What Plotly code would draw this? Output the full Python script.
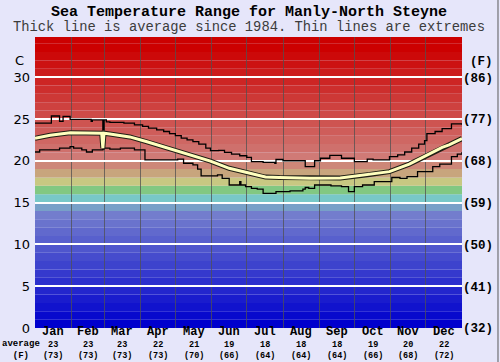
import plotly.graph_objects as go

# ---------------- data ----------------
months = ["Jan", "Feb", "Mar", "Apr", "May", "Jun", "Jul", "Aug", "Sep", "Oct", "Nov", "Dec"]
month_days = [31, 28, 31, 30, 31, 30, 31, 31, 30, 31, 30, 31]
month_avg_c = [23, 23, 23, 22, 21, 19, 18, 18, 18, 19, 20, 22]
month_avg_f = [73, 73, 73, 73, 70, 66, 64, 64, 64, 66, 68, 72]

c_ticks = [0, 5, 10, 15, 20, 25, 30]
f_ticks = [32, 41, 50, 59, 68, 77, 86]

max_days = [0, 14, 21, 24, 30, 48, 49, 58, 59, 61, 64, 76, 85, 92, 97, 104, 110, 115, 120, 125,
            130, 135, 140, 146, 150, 157, 162, 168, 175, 181, 185, 195, 205, 206, 212, 218, 231,
            239, 244, 252, 262, 273, 284, 289, 303, 310, 316, 322, 328, 333, 335, 342, 348, 356, 365]
max_temp = [24.5, 25.35, 24.7, 25.3, 24.95, 24.7, 24.9, 23.7, 24.9, 24.65, 24.6, 24.5, 24.3, 24.1,
            23.9, 23.7, 23.5, 23.25, 23.0, 22.7, 22.5, 22.3, 22.0, 21.5, 21.2, 21.25, 21.0, 20.8,
            20.6, 20.4, 19.9, 19.8, 19.7, 20.15, 20.0, 20.0, 19.3, 20.0, 20.3, 20.65, 20.3, 19.9,
            20.2, 20.1, 20.5, 20.7, 21.05, 21.5, 22.0, 22.4, 23.25, 23.5, 23.85, 24.4, 24.3]

avg_days = [0, 13, 30, 53, 57, 58, 59, 64, 81, 95, 109, 123, 138, 150, 166, 184, 197, 209, 223,
            235, 261, 286, 303, 320, 333, 348, 354, 365]
avg_temp = [22.7, 23.05, 23.35, 23.35, 23.3, 21.5, 23.3, 23.2, 22.85, 22.3, 21.7, 21.05, 20.45,
            19.95, 19.1, 18.45, 18.05, 18.0, 17.95, 17.9, 17.95, 18.35, 18.7, 19.6, 20.5, 21.6,
            21.9, 22.65]

min_days = [0, 4, 21, 30, 33, 40, 44, 49, 58, 59, 64, 73, 85, 94, 122, 127, 135, 139, 142, 156,
            160, 166, 174, 175, 176, 180, 185, 190, 195, 206, 218, 229, 231, 234, 239, 253, 262,
            268, 273, 280, 290, 305, 312, 318, 327, 338, 340, 346, 356, 361, 365]
min_temp = [21.05, 21.3, 21.5, 21.7, 21.5, 21.3, 21.05, 21.3, 21.4, 21.5, 21.4, 21.5, 21.3, 20.1,
            20.2, 19.7, 19.5, 19.0, 18.2, 18.3, 17.9, 17.1, 17.1, 17.5, 17.1, 16.9, 16.7, 16.6,
            16.1, 16.3, 16.4, 16.6, 16.8, 16.7, 17.1, 17.0, 16.9, 16.3, 16.9, 17.1, 17.5, 18.0,
            17.9, 18.1, 18.7, 18.7, 19.3, 19.6, 20.5, 20.8, 21.05]

# ---------------- styling helpers ----------------
def band_color(t):
    special = {14: (120, 160, 200), 15: (120, 200, 200), 16: (130, 200, 130),
               17: (200, 200, 130), 18: (200, 165, 125), 19: (205, 135, 120)}
    if t in special:
        return "rgb(%d,%d,%d)" % special[t]
    if t < 14:
        f = t / 13.0
        return "rgb(%d,%d,%d)" % (int(115 * f), int(125 * f), 205)
    f = min((t - 20) / 13.0, 1.0)
    return "rgb(%d,%d,%d)" % (int(208 - 4 * f), int(122 * (1 - f)), int(118 * (1 - f)))

bounds = [0]
for d in month_days:
    bounds.append(bounds[-1] + d)
mids = [(bounds[i] + bounds[i + 1]) / 2 for i in range(12)]

fig = go.Figure()

shapes = []
for t in range(0, 35):
    shapes.append(dict(type="rect", xref="x", yref="y", x0=0, x1=365, y0=t, y1=t + 1,
                       fillcolor=band_color(t), line=dict(width=0), layer="below"))
# thin frame line at the right edge of the image
shapes.append(dict(type="line", xref="paper", yref="paper", x0=1.0843, x1=1.0843,
                   y0=-0.13, y1=1.14, line=dict(color="rgb(90,90,90)", width=1)))

fig.add_trace(go.Scatter(x=max_days, y=max_temp, mode="lines", line_shape="hv",
                         line=dict(color="black", width=1.3), hoverinfo="skip"))
fig.add_trace(go.Scatter(x=min_days, y=min_temp, mode="lines", line_shape="hv",
                         line=dict(color="black", width=1.3), hoverinfo="skip"))
fig.add_trace(go.Scatter(x=avg_days, y=avg_temp, mode="lines",
                         line=dict(color="rgb(30,30,20)", width=5), hoverinfo="skip"))
fig.add_trace(go.Scatter(x=avg_days, y=avg_temp, mode="lines",
                         line=dict(color="rgb(255,255,190)", width=3), hoverinfo="skip"))
fig.add_trace(go.Scatter(x=[0], y=[0], yaxis="y2", mode="markers",
                         marker=dict(opacity=0), hoverinfo="skip"))

mono = "Liberation Mono, Courier New, monospace"
sans = "DejaVu Sans, Verdana, sans-serif"
ann = []
ann.append(dict(text="<b>Sea Temperature Range for Manly-North Steyne</b>", x=0.5, y=1,
                xref="paper", yref="paper", yshift=25, showarrow=False,
                xanchor="center", yanchor="middle",
                font=dict(family=mono, size=15, color="black")))
ann.append(dict(text="Thick line is average since 1984. Thin lines are extremes", x=0.5, y=1,
                xref="paper", yref="paper", yshift=10, showarrow=False,
                xanchor="center", yanchor="middle",
                font=dict(family=mono, size=13.8, color="rgb(60,60,60)")))
for i in range(12):
    ann.append(dict(text="<b>%s</b>" % months[i], x=mids[i], y=0, xref="x", yref="paper",
                    yshift=-4, showarrow=False, xanchor="center", yanchor="middle",
                    borderpad=0, font=dict(family=mono, size=12, color="black")))
    ann.append(dict(text="<b>%d<br>(%d)</b>" % (month_avg_c[i], month_avg_f[i]), x=mids[i], y=0,
                    xref="x", yref="paper", yshift=-22, showarrow=False,
                    xanchor="center", yanchor="middle", borderpad=0,
                    font=dict(family=mono, size=8.5, color="black")))
ann.append(dict(text="<b>average<br>(F)</b>", x=0, y=0, xref="paper", yref="paper",
                showarrow=False, xanchor="center", yanchor="middle", yshift=-22, xshift=-14,
                borderpad=0, font=dict(family=mono, size=9, color="black")))
ann.append(dict(text="C", x=0, y=1, xref="paper", yref="paper", showarrow=False,
                xanchor="center", yanchor="middle", yshift=-23, xshift=-16,
                font=dict(family=sans, size=13, color="black")))
ann.append(dict(text="<b>(F)</b>", x=1, y=1, xref="paper", yref="paper", showarrow=False,
                xanchor="center", yanchor="middle", yshift=-25, xshift=19,
                font=dict(family=mono, size=12.5, color="black")))

fig.update_layout(
    width=500, height=362,
    margin=dict(l=35, r=38, t=37, b=34),
    paper_bgcolor="rgb(230,230,250)",
    plot_bgcolor="rgb(230,230,250)",
    showlegend=False,
    shapes=shapes,
    annotations=ann,
    xaxis=dict(range=[0, 365], tickvals=bounds[1:-1], showticklabels=False, ticks="",
               showgrid=True, gridcolor="rgba(80,80,80,0.75)", gridwidth=1, zeroline=False,
               showline=False, fixedrange=True),
    yaxis=dict(range=[0, 34.8], tickvals=c_ticks, ticktext=[str(v) for v in c_ticks],
               showgrid=True, gridcolor="white", gridwidth=1.6, zeroline=False, ticks="",
               tickfont=dict(family=sans, size=13, color="black"),
               ticklabelstandoff=4, fixedrange=True, automargin=False),
    yaxis2=dict(range=[0, 34.8], overlaying="y", side="right", tickvals=c_ticks,
                ticktext=["<b>(%d)</b>" % v for v in f_ticks], showgrid=False, zeroline=False,
                ticks="", tickfont=dict(family=mono, size=12.5, color="black"),
                fixedrange=True, automargin=False),
)

fig.write_html("out.html", config={"displayModeBar": False},
               post_script="document.body.style.margin='0px';document.body.style.padding='0px';")
